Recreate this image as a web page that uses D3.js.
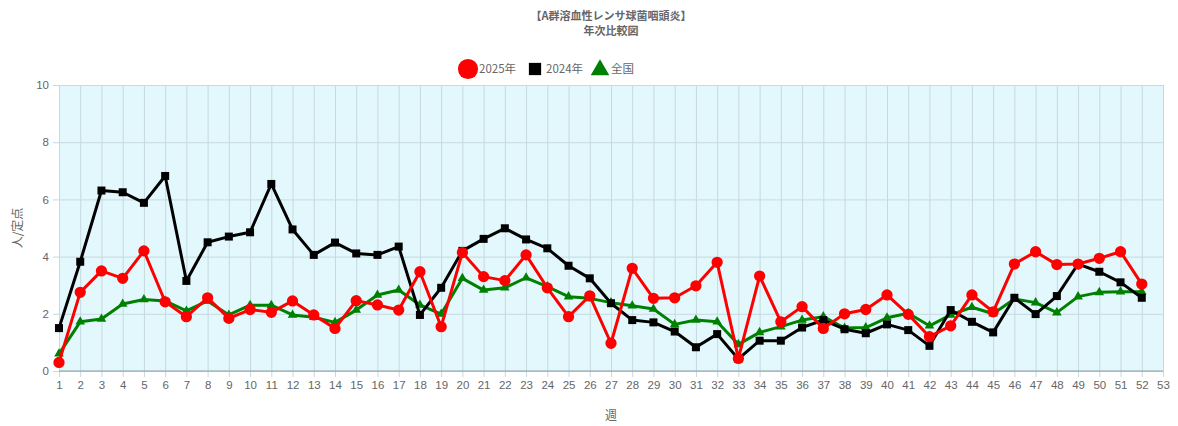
<!DOCTYPE html>
<html>
<head>
<meta charset="utf-8">
<script src="https://cdn.jsdelivr.net/npm/d3@7"></script>
<style>
  body { margin: 0; background: #fff; }
  svg { display: block; font-family: "Noto Sans CJK JP", "Noto Sans", sans-serif; }
</style>
</head>
<body>
<div id="grafico"></div>
<script>
const semanas = d3.range(1, 54);
const etiquetasY = [0, 2, 4, 6, 8, 10];

const datos2025 = [0.3, 2.75, 3.5, 3.24, 4.2, 2.42, 1.9, 2.56, 1.84, 2.15, 2.05, 2.45,
  1.96, 1.49, 2.46, 2.31, 2.13, 3.47, 1.55, 4.14, 3.3, 3.16, 4.06, 2.91, 1.9,
  2.63, 0.97, 3.59, 2.54, 2.56, 2.98, 3.8, 0.44, 3.32, 1.72, 2.25, 1.49, 2.0,
  2.15, 2.66, 1.98, 1.2, 1.58, 2.66, 2.07, 3.74, 4.17, 3.72, 3.74, 3.94, 4.17, 3.04];

const datos2024 = [1.5, 3.82, 6.31, 6.25, 5.88, 6.82, 3.15, 4.5, 4.7, 4.85, 6.54, 4.95,
  4.06, 4.49, 4.11, 4.06, 4.35, 1.96, 2.91, 4.2, 4.62, 4.99, 4.6, 4.29, 3.68,
  3.24, 2.37, 1.78, 1.7, 1.38, 0.83, 1.29, 0.42, 1.06, 1.06, 1.52, 1.78, 1.46,
  1.32, 1.63, 1.43, 0.88, 2.13, 1.72, 1.35, 2.56, 1.99, 2.62, 3.74, 3.47, 3.1, 2.56];

const datosNacional = [0.6, 1.72, 1.82, 2.34, 2.5, 2.45, 2.1, 2.45, 1.96, 2.3, 2.3, 1.96,
  1.88, 1.7, 2.13, 2.66, 2.83, 2.31, 1.99, 3.24, 2.83, 2.91, 3.26, 2.95, 2.6,
  2.54, 2.39, 2.28, 2.17, 1.63, 1.78, 1.72, 0.93, 1.35, 1.55, 1.78, 1.9, 1.5,
  1.52, 1.86, 2.02, 1.58, 1.96, 2.23, 2.0, 2.52, 2.39, 2.04, 2.6, 2.75, 2.77, 2.77];

const series = [
  { nombre: '全国', datos: datosNacional, color: 'green', simbolo: d3.symbolTriangle, tam: 40 },
  { nombre: '2024年', datos: datos2024, color: 'black', simbolo: d3.symbolSquare, tam: 64 },
  { nombre: '2025年', datos: datos2025, color: 'red', simbolo: d3.symbolCircle, tam: 100 }
];

const width = 1178, height = 426;
const margen = { top: 85, right: 15, bottom: 55, left: 59 };

const svg = d3.select('#grafico').append('svg')
  .attr('width', width).attr('height', height);

const x = d3.scaleLinear().domain([1, 53]).range([margen.left, width - margen.right]);
const y = d3.scaleLinear().domain([0, 10]).range([height - margen.bottom, margen.top]);

// fondo
svg.append('rect')
  .attr('x', x(1)).attr('y', y(10))
  .attr('width', x(53) - x(1)).attr('height', y(0) - y(10))
  .attr('fill', '#e3f8fd');

// rejilla vertical
svg.append('g')
  .attr('transform', `translate(0,${y(0)})`)
  .call(d3.axisBottom(x).tickValues(semanas).tickSize(-(y(0) - y(10)) - 0).tickPadding(10).tickFormat(d3.format('d')))
  .call(g => g.select('.domain').remove())
  .call(g => g.selectAll('.tick line').attr('stroke', '#c5d9df').attr('y2', -(y(0) - y(10))).attr('y1', 6))
  .call(g => g.selectAll('.tick text').attr('fill', '#666').style('font-size', '11.5px'));

// rejilla horizontal
svg.append('g')
  .attr('transform', `translate(${x(1)},0)`)
  .call(d3.axisLeft(y).tickValues(etiquetasY).tickSize(-(x(53) - x(1))).tickPadding(10))
  .call(g => g.select('.domain').remove())
  .call(g => g.selectAll('.tick line').attr('stroke', '#c5d9df').attr('x1', -6))
  .call(g => g.selectAll('.tick text').attr('fill', '#666').style('font-size', '11.5px'));

// eje x
svg.append('line')
  .attr('x1', x(1)).attr('x2', x(53))
  .attr('y1', y(0)).attr('y2', y(0))
  .attr('stroke', '#8a9ea4').attr('stroke-width', 1);

const linea = d3.line().x((d, i) => x(i + 1)).y(d => y(d));

series.forEach(s => {
  svg.append('path')
    .datum(s.datos)
    .attr('d', linea)
    .attr('fill', 'none')
    .attr('stroke', s.color)
    .attr('stroke-width', 3)
    .attr('stroke-linejoin', 'round');

  svg.append('g').selectAll('path')
    .data(s.datos)
    .join('path')
    .attr('transform', (d, i) => `translate(${x(i + 1)},${y(d)})`)
    .attr('d', d3.symbol().type(s.simbolo).size(s.tam))
    .attr('fill', s.color);
});

// titulo
svg.append('text')
  .attr('x', x(27) + 0).attr('y', 20)
  .attr('text-anchor', 'middle')
  .attr('fill', '#666').style('font-size', '11px').style('font-weight', 'bold')
  .text('【A群溶血性レンサ球菌咽頭炎】');
svg.append('text')
  .attr('x', x(27)).attr('y', 35)
  .attr('text-anchor', 'middle')
  .attr('fill', '#666').style('font-size', '11px').style('font-weight', 'bold')
  .text('年次比較図');

// leyenda
const leyenda = [
  { nombre: '2025年', color: 'red', simbolo: d3.symbolCircle, tam: 320, x: 468 },
  { nombre: '2024年', color: 'black', simbolo: d3.symbolSquare, tam: 150, x: 535 },
  { nombre: '全国', color: 'green', simbolo: d3.symbolTriangle, tam: 150, x: 600 }
];
leyenda.forEach(l => {
  svg.append('path')
    .attr('transform', `translate(${l.x},${l.nombre === '全国' ? 70 : 69})`)
    .attr('d', d3.symbol().type(l.simbolo).size(l.tam))
    .attr('fill', l.color);
  svg.append('text')
    .attr('x', l.x + 11).attr('y', 73)
    .attr('fill', '#666').style('font-size', '11.5px')
    .text(l.nombre);
});

// titulos de ejes
svg.append('text')
  .attr('transform', `translate(22,${(y(0) + y(10)) / 2}) rotate(-90)`)
  .attr('text-anchor', 'middle')
  .attr('fill', '#666').style('font-size', '12px')
  .text('人/定点');
svg.append('text')
  .attr('x', x(27)).attr('y', 420)
  .attr('text-anchor', 'middle')
  .attr('fill', '#666').style('font-size', '12px')
  .text('週');
</script>
</body>
</html>
